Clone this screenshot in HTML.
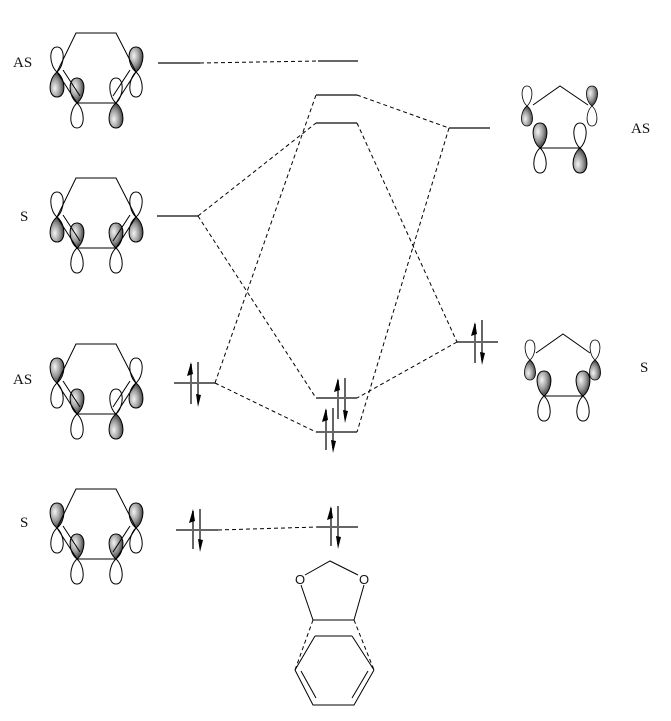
<!DOCTYPE html>
<html><head><meta charset="utf-8"><style>
html,body{margin:0;padding:0;background:#fff;}
svg{display:block;}
text{font-family:"Liberation Serif","Times New Roman",serif;font-size:15px;fill:#111;}
</style></head><body>
<svg width="671" height="721" viewBox="0 0 671 721" xmlns="http://www.w3.org/2000/svg">
<defs>
<radialGradient id="g" cx="0.35" cy="0.35" r="0.75">
<stop offset="0" stop-color="#f4f4f4"/><stop offset="0.5" stop-color="#999"/><stop offset="1" stop-color="#222"/>
</radialGradient>
<path id="w" d="M0 0 C-8 -7 -8.5 -25 0 -25 C8.5 -25 8 -7 0 0Z" fill="#fff" stroke="#000" stroke-width="1"/>
<path id="s" d="M0 0 C-9 -7 -9.5 -25 0 -25 C9.5 -25 9 -7 0 0Z" fill="url(#g)" stroke="#000" stroke-width="1"/>
<g id="hex" fill="none" stroke="#000" stroke-width="1">
<path d="M57 39 L76 0 L116 0 L136 39 M57 39 L77 70 L116 70 L136 39"/>
<path d="M63 37 L80 63 M130 37 L113 63"/>
</g>
</defs>

<text x="13" y="67">AS</text>
<text x="20" y="221">S</text>
<text x="13" y="384">AS</text>
<text x="20" y="527">S</text>
<text x="631" y="133">AS</text>
<text x="640" y="372">S</text>

<g transform="translate(0,33)">
<use href="#w" x="57" y="39"/><use href="#s" transform="translate(57,39) scale(1,-1)"/>
<use href="#s" x="77" y="70"/><use href="#w" transform="translate(77,70) scale(1,-1)"/>
<use href="#w" x="116" y="70"/><use href="#s" transform="translate(116,70) scale(1,-1)"/>
<use href="#s" x="136" y="39"/><use href="#w" transform="translate(136,39) scale(1,-1)"/>
<use href="#hex"/>
</g>
<g transform="translate(0,178)">
<use href="#w" x="57" y="39"/><use href="#s" transform="translate(57,39) scale(1,-1)"/>
<use href="#s" x="77" y="70"/><use href="#w" transform="translate(77,70) scale(1,-1)"/>
<use href="#s" x="116" y="70"/><use href="#w" transform="translate(116,70) scale(1,-1)"/>
<use href="#w" x="136" y="39"/><use href="#s" transform="translate(136,39) scale(1,-1)"/>
<use href="#hex"/>
</g>
<g transform="translate(0,344)">
<use href="#s" x="57" y="39"/><use href="#w" transform="translate(57,39) scale(1,-1)"/>
<use href="#s" x="77" y="70"/><use href="#w" transform="translate(77,70) scale(1,-1)"/>
<use href="#w" x="116" y="70"/><use href="#s" transform="translate(116,70) scale(1,-1)"/>
<use href="#w" x="136" y="39"/><use href="#s" transform="translate(136,39) scale(1,-1)"/>
<use href="#hex"/>
</g>
<g transform="translate(0,489)">
<use href="#s" x="57" y="39"/><use href="#w" transform="translate(57,39) scale(1,-1)"/>
<use href="#s" x="77" y="70"/><use href="#w" transform="translate(77,70) scale(1,-1)"/>
<use href="#s" x="116" y="70"/><use href="#w" transform="translate(116,70) scale(1,-1)"/>
<use href="#s" x="136" y="39"/><use href="#w" transform="translate(136,39) scale(1,-1)"/>
<use href="#hex"/>
</g>

<g>
<use href="#w" transform="translate(527,106) scale(0.8)"/><use href="#s" transform="translate(527,106) scale(0.8,-0.8)"/>
<use href="#s" transform="translate(592,106) scale(0.8)"/><use href="#w" transform="translate(592,106) scale(0.8,-0.8)"/>
<use href="#s" transform="translate(540,148) scale(1)"/><use href="#w" transform="translate(540,148) scale(1,-1)"/>
<use href="#w" transform="translate(580,148) scale(1)"/><use href="#s" transform="translate(580,148) scale(1,-1)"/>
<path d="M533 105 L560 86 L588 105 M540 148 L580 148" fill="none" stroke="#000"/>
</g>
<g>
<use href="#w" transform="translate(530,360) scale(0.8)"/><use href="#s" transform="translate(530,360) scale(0.8,-0.8)"/>
<use href="#w" transform="translate(595,360) scale(0.8)"/><use href="#s" transform="translate(595,360) scale(0.8,-0.8)"/>
<use href="#s" transform="translate(544,396) scale(1)"/><use href="#w" transform="translate(544,396) scale(1,-1)"/>
<use href="#s" transform="translate(583,396) scale(1)"/><use href="#w" transform="translate(583,396) scale(1,-1)"/>
<path d="M536 353 L563 334 L590 353 M544 396 L583 396" fill="none" stroke="#000"/>
</g>

<g stroke="#666" stroke-width="2" fill="none">
<path d="M158 63 H200 M318 61 H358 M316 95 H357 M316 123 H357 M449 128 H490"/>
<path d="M157 216 H198 M174 383 H215 M316 398 H357 M316 432 H357 M457 342 H498"/>
<path d="M176 530 H218 M317 527 H358"/>
</g>
<g stroke="#000" stroke-width="1" stroke-dasharray="4,3" fill="none">
<path d="M200 63 L318 61"/>
<path d="M198 216 L316 123 M198 216 L316 398"/>
<path d="M215 383 L316 95 M215 383 L316 432"/>
<path d="M357 95 L449 128 M357 123 L457 342"/>
<path d="M449 128 L357 432 M457 342 L357 398"/>
<path d="M218 530 L317 527"/>
</g>

<g stroke="#666" stroke-width="2">
<path d="M191 404 V364 M198 362 V402"/>
<path d="M338 419 V380 M345 378 V418"/>
<path d="M326 450 V410 M333 408 V448"/>
<path d="M331 546 V508 M338 506 V544"/>
<path d="M193 549 V511 M200 509 V547"/>
<path d="M475 363 V324 M482 320 V360"/>
</g>
<g fill="#000">
<path d="M191 362 L187 376 L193 374Z"/><path d="M198 407 L196 394 L201 395Z"/>
<path d="M338 378 L334 392 L340 390Z"/><path d="M345 423 L343 410 L348 411Z"/>
<path d="M326 408 L322 422 L328 420Z"/><path d="M333 453 L331 440 L336 441Z"/>
<path d="M331 506 L327 520 L333 518Z"/><path d="M338 549 L336 536 L341 537Z"/>
<path d="M193 509 L189 523 L195 521Z"/><path d="M200 552 L198 539 L203 540Z"/>
<path d="M475 322 L471 336 L477 334Z"/><path d="M482 365 L480 352 L485 353Z"/>
</g>

<g fill="none" stroke="#000" stroke-width="1">
<path d="M305 575 L330 561 L358 575"/>
<path d="M301 585 L313 620 M364 585 L354 620"/>
<path d="M313 620 H354 M315 636 H352"/>
<path d="M315 636 L295 670 M352 636 L374 670"/>
<path d="M295 670 L313 705 H354 L374 670"/>
<path d="M301 671 L316 698 M368 671 L352 698"/>
<path d="M313 620 L295 670 M354 620 L374 670" stroke-dasharray="4,3"/>
</g>
<text x="295" y="584" style="font-family:'Liberation Sans',sans-serif;font-size:13px">O</text>
<text x="359" y="584" style="font-family:'Liberation Sans',sans-serif;font-size:13px">O</text>
</svg>
</body></html>
